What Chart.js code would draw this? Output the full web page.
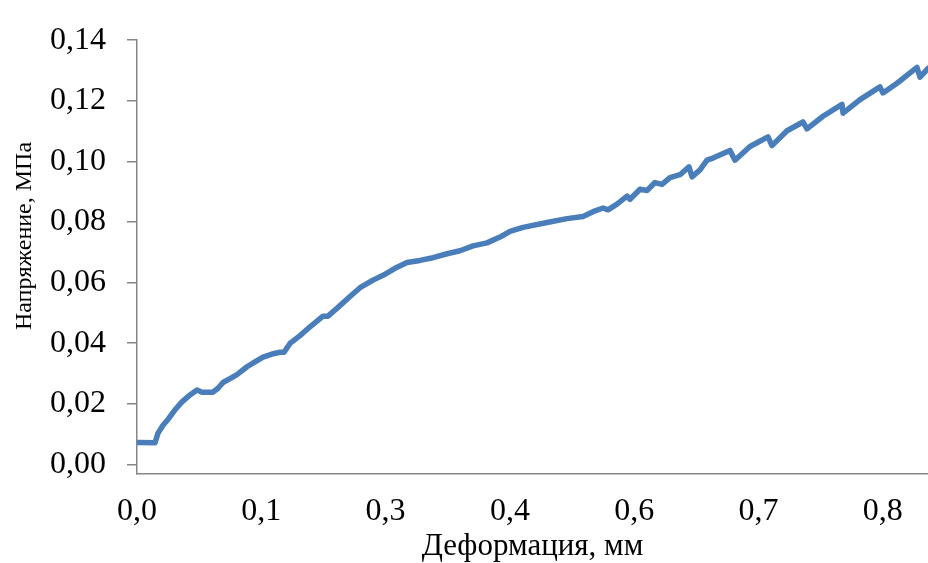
<!DOCTYPE html>
<html>
<head>
<meta charset="utf-8">
<script src="https://cdn.jsdelivr.net/npm/chart.js@4"></script>
<style>
    body { margin: 0; background: #fff; }
    canvas { display: block; }
</style>
</head>
<body>
<canvas id="chart" width="928" height="563"></canvas>
<script>
// деформация, мм
const deformation = [
    0.001, 0.0203, 0.0237, 0.0293, 0.0349, 0.0428, 0.0507, 0.0597, 0.0676, 0.0732,
    0.0856, 0.0912, 0.0969, 0.1047, 0.1126, 0.1239, 0.1329, 0.1419, 0.1521, 0.1611,
    0.1656, 0.1723, 0.1836, 0.1949, 0.2095, 0.2151, 0.2264, 0.2399, 0.2512, 0.2658,
    0.2771, 0.2906, 0.3041, 0.3187, 0.3334, 0.3492, 0.3638, 0.3784, 0.3942, 0.4088,
    0.4201, 0.4348, 0.4618, 0.4843, 0.5023, 0.5136, 0.5249, 0.5305, 0.5406, 0.5519,
    0.5553, 0.5665, 0.5744, 0.5834, 0.5913, 0.6003, 0.6116, 0.6217, 0.6251, 0.6341,
    0.6420, 0.6487, 0.6679, 0.6735, 0.6904, 0.7107, 0.7152, 0.7321, 0.7501, 0.7546,
    0.7726, 0.7940, 0.7952, 0.8143, 0.8368, 0.8402, 0.8560, 0.8785, 0.8819, 0.8909
];

// напряжение, МПа
const stress = [
    0.0072, 0.0071, 0.0103, 0.0129, 0.0148, 0.0180, 0.0206, 0.0229, 0.0245, 0.0238,
    0.0238, 0.0251, 0.0270, 0.0283, 0.0296, 0.0322, 0.0338, 0.0354, 0.0364, 0.0370,
    0.0370, 0.0399, 0.0425, 0.0454, 0.0489, 0.0489, 0.0518, 0.0554, 0.0583, 0.0608,
    0.0624, 0.0647, 0.0666, 0.0673, 0.0682, 0.0695, 0.0705, 0.0721, 0.0731, 0.0750,
    0.0769, 0.0782, 0.0798, 0.0811, 0.0818, 0.0834, 0.0846, 0.0840, 0.0859, 0.0885,
    0.0875, 0.0908, 0.0904, 0.0930, 0.0924, 0.0946, 0.0956, 0.0982, 0.0949, 0.0972,
    0.1004, 0.1011, 0.1036, 0.1004, 0.1049, 0.1081, 0.1052, 0.1101, 0.1130, 0.1107,
    0.1149, 0.1188, 0.1159, 0.1204, 0.1246, 0.1226, 0.1258, 0.1310, 0.1278, 0.1307
];

const xTickValues = [0, 0.14, 0.28, 0.42, 0.56, 0.70, 0.84];
const xTickLabels = ["0,0", "0,1", "0,3", "0,4", "0,6", "0,7", "0,8"];
const yTickValues = [0, 0.02, 0.04, 0.06, 0.08, 0.10, 0.12, 0.14];
const yTickLabels = ["0,00", "0,02", "0,04", "0,06", "0,08", "0,10", "0,12", "0,14"];

const xTitle = "Деформация, мм";
const yTitle = "Напряжение, МПа";

const serif = "'Liberation Serif', 'Times New Roman', serif";
const axisColor = "#868686";

// заголовок оси Y рисуем сами, чтобы поставить его как в Excel
const yTitlePlugin = {
    id: "yTitle",
    afterDraw(chart) {
        const ctx = chart.ctx;
        ctx.save();
        ctx.translate(25, 236);
        ctx.rotate(-Math.PI / 2);
        ctx.font = "24px " + serif;
        ctx.fillStyle = "#000";
        ctx.textAlign = "center";
        ctx.textBaseline = "middle";
        ctx.fillText(yTitle, 0, 0);
        ctx.restore();
    }
};

const points = deformation.map((x, i) => ({ x: x, y: stress[i] }));

new Chart(document.getElementById("chart"), {
    type: "line",
    data: {
        datasets: [{
            data: points,
            borderColor: "rgb(74, 126, 187)",
            borderWidth: 5.5,
            pointRadius: 0,
            tension: 0,
            fill: false,
            borderJoinStyle: "round",
            borderCapStyle: "round"
        }]
    },
    options: {
        responsive: false,
        animation: false,
        layout: { padding: { top: 29, right: 0, bottom: 0, left: 0 } },
        plugins: {
            legend: { display: false },
            tooltip: { enabled: false }
        },
        scales: {
            x: {
                type: "linear",
                min: 0,
                max: 0.8909,
                afterBuildTicks: (scale) => {
                    scale.ticks = xTickValues.map((v) => ({ value: v }));
                },
                afterFit: (scale) => { scale.height = 89; },
                grid: { display: false },
                border: { display: true, color: axisColor, width: 1.5 },
                ticks: {
                    autoSkip: false,
                    maxRotation: 0,
                    padding: 10,
                    color: "#000",
                    font: { family: serif, size: 32 },
                    callback: (value, index) => xTickLabels[index]
                },
                title: {
                    display: true,
                    text: xTitle,
                    color: "#000",
                    font: { family: serif, size: 31, lineHeight: 1 },
                    padding: { top: 0, bottom: 1 }
                }
            },
            y: {
                min: -0.0032,
                max: 0.14,
                afterBuildTicks: (scale) => {
                    scale.ticks = yTickValues.map((v) => ({ value: v }));
                },
                afterFit: (scale) => { scale.width = 137; },
                grid: {
                    drawOnChartArea: false,
                    drawTicks: true,
                    tickLength: 10,
                    color: axisColor,
                    lineWidth: 1.5
                },
                border: { display: true, color: axisColor, width: 1.5 },
                ticks: {
                    padding: 21,
                    color: "#000",
                    font: { family: serif, size: 32 },
                    callback: (value, index) => yTickLabels[index]
                }
            }
        }
    },
    plugins: [yTitlePlugin]
});
</script>
</body>
</html>
